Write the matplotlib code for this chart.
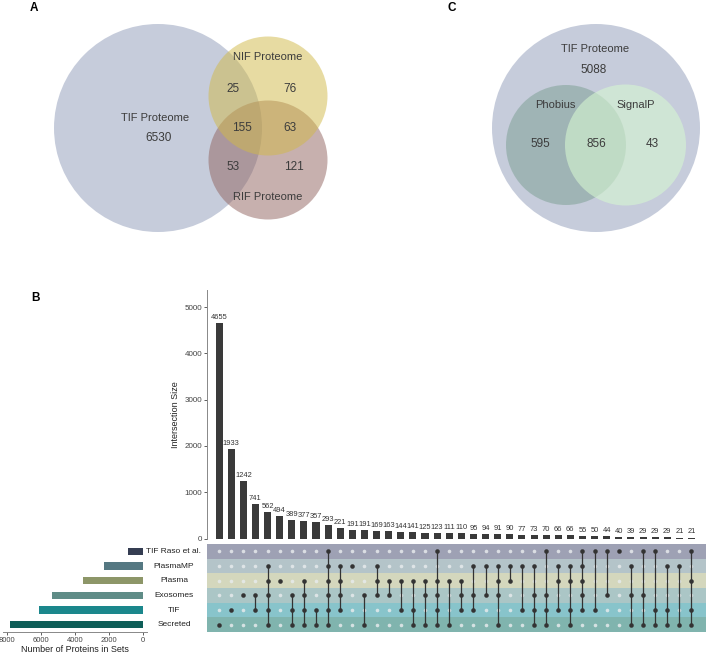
import numpy as np
import matplotlib.pyplot as plt
from matplotlib.patches import Circle
from matplotlib.transforms import blended_transform_factory

plt.rcParams['font.family'] = ['Liberation Sans', 'DejaVu Sans']

# Panel A - venn of the three proteomes
venn_a_sets = ['TIF Proteome', 'NIF Proteome', 'RIF Proteome']
venn_a_counts = [6530, 25, 76, 155, 63, 53, 121]   # TIF, TIF&NIF, NIF, all, NIF&RIF, TIF&RIF, RIF

# Panel C - signal peptide prediction
venn_c_sets = ['TIF Proteome', 'Phobius', 'SignalP']
venn_c_counts = [5088, 595, 856, 43]              # TIF only, Phobius, both, SignalP

# Panel B - upset
set_names = ['TIF Raso et al.', 'PlasmaMP', 'Plasma', 'Exosomes', 'TIF', 'Secreted']
set_sizes = [920, 2330, 3510, 5370, 6100, 7820]
set_colors = ['#353d52', '#557882', '#8d9668', '#5f8c87', '#1b878c', '#0e5e58']
row_colors = ['#9ea1b4', '#b4c4c9', '#d4d7bd', '#abc6c6', '#88c4cb', '#80b4ae']

inter_sizes = [4655, 1933, 1242, 741, 562, 494, 389, 377, 357, 293,
               221, 191, 191, 169, 163, 144, 141, 125, 123, 111,
               110, 95, 94, 91, 90, 77, 73, 70, 66, 66,
               55, 50, 44, 40, 39, 29, 29, 29, 21, 21]
# row index of every set in each intersection (0 = TIF Raso et al. ... 5 = Secreted)
inter_members = [[5], [4], [3], [3, 4], [1, 2, 3, 4, 5], [2], [3, 4, 5], [2, 3, 4, 5], [4, 5],
                 [0, 1, 2, 3, 4, 5], [1, 2, 3, 4], [1], [3, 5], [1, 2, 3], [2, 3], [2, 4],
                 [2, 4, 5], [2, 3, 5], [0, 2, 3, 4, 5], [2, 5], [2, 3, 4], [1, 3, 4], [1, 3],
                 [1, 2, 3, 5], [1, 2], [1, 4], [1, 3, 4, 5], [0, 3, 4, 5], [1, 2, 4],
                 [1, 2, 4, 5], [0, 1, 2, 3, 4], [0, 4], [0, 3], [0], [1, 3, 5], [0, 3, 5],
                 [0, 4, 5], [1, 4, 5], [1, 5], [0, 2, 4, 5]]

W, H = 709, 655
fig = plt.figure(figsize=(W / 100, H / 100), dpi=100)


def px_axes(l, t, r, b):
    return fig.add_axes([l / W, 1 - b / H, (r - l) / W, (b - t) / H])


txt = '#3c3c3c'

# ---- venns, drawn on a pixel-space overlay
ov = px_axes(0, 0, W, H)
ov.set_xlim(0, W)
ov.set_ylim(H, 0)
ov.axis('off')

ov.add_patch(Circle((158, 128), 104, color='#8e9ab8', alpha=0.5, lw=0))
ov.add_patch(Circle((268, 160), 59.5, color='#91635f', alpha=0.5, lw=0))
ov.add_patch(Circle((268, 96), 59.5, color='#d1b947', alpha=0.5, lw=0))

a_pos = [(159, 138), (233, 89), (290, 89), (242, 128), (290, 128), (233, 167), (294, 167)]
for (x, y), n in zip(a_pos, venn_a_counts):
    ov.text(x, y, str(n), ha='center', va='center', fontsize=8.5, color=txt)
ov.text(155, 118, venn_a_sets[0], ha='center', va='center', fontsize=8, color=txt)
ov.text(268, 57, venn_a_sets[1], ha='center', va='center', fontsize=8, color=txt)
ov.text(268, 197, venn_a_sets[2], ha='center', va='center', fontsize=8, color=txt)

ov.add_patch(Circle((596, 128), 104, color='#8e9ab8', alpha=0.5, lw=0))
ov.add_patch(Circle((566, 145), 60, color='#86a59c', alpha=0.6, lw=0))
ov.add_patch(Circle((625.5, 145), 60.5, color='#d6f6d1', alpha=0.6, lw=0))
ov.text(595, 49, venn_c_sets[0], ha='center', va='center', fontsize=8, color=txt)
ov.text(555, 105, venn_c_sets[1], ha='center', va='center', fontsize=8, color=txt)
ov.text(636, 105, venn_c_sets[2], ha='center', va='center', fontsize=8, color=txt)
c_pos = [(594, 70), (540, 144), (596, 144), (652, 144)]
for (x, y), n in zip(c_pos, venn_c_counts):
    ov.text(x, y, str(n), ha='center', va='center', fontsize=8.5, color=txt)

for lab, x, y in [('A', 34, 8), ('C', 452, 8), ('B', 35, 298)]:
    ov.text(x, y, lab, ha='center', va='center', fontsize=8.5, fontweight='bold', color='black')

# ---- intersection bars
n = len(inter_sizes)
xs = np.arange(n)
xl = (-1.0, n + 0.2)

axb = px_axes(207, 290, 706, 538.5)
axb.bar(xs, inter_sizes, width=0.58, color='#3a3a3a')
for x, v in zip(xs, inter_sizes):
    axb.annotate(str(v), (x, v), xytext=(0, 1.5), textcoords='offset points',
                 ha='center', va='bottom', fontsize=5.4, color='#333333')
axb.set_xlim(*xl)
axb.set_ylim(0, 5370)
axb.set_yticks(range(0, 5001, 1000))
axb.tick_params(axis='y', labelsize=5.8, length=2, width=0.6, colors='#444444', pad=1.5)
axb.set_xticks([])
for s in ['top', 'right', 'bottom']:
    axb.spines[s].set_visible(False)
axb.spines['left'].set_color('#888888')
axb.spines['left'].set_linewidth(0.7)
axb.set_ylabel('Intersection Size', fontsize=6.5, color='#222222', labelpad=3)

# ---- matrix
axm = px_axes(207, 544, 706, 632)
axm.set_xlim(*xl)
axm.set_ylim(len(set_names) - 0.5, -0.5)
for i, c in enumerate(row_colors):
    axm.axhspan(i - 0.5, i + 0.5, color=c, lw=0)
for x in xs:
    axm.plot([x] * len(set_names), range(len(set_names)), 'o', ms=2.6,
             color='#e6eaec', alpha=0.85, mec='none')
for x, mem in zip(xs, inter_members):
    if len(mem) > 1:
        axm.plot([x, x], [min(mem), max(mem)], color='#333333', lw=0.9)
    axm.plot([x] * len(mem), mem, 'o', ms=3.3, color='#333333', mec='none')
axm.axis('off')

# ---- set sizes
axs = px_axes(3, 544, 147, 632)
axs.barh(range(len(set_names)), set_sizes, height=0.5, color=set_colors)
axs.set_ylim(len(set_names) - 0.5, -0.5)
axs.set_xlim(8233, -217)
axs.set_xticks(range(0, 8001, 2000))
axs.set_yticks([])
axs.tick_params(axis='x', labelsize=5.5, length=2, width=0.6, colors='#444444', pad=1.5)
for s in ['top', 'right', 'left']:
    axs.spines[s].set_visible(False)
axs.spines['bottom'].set_color('#888888')
axs.spines['bottom'].set_linewidth(0.7)
axs.set_xlabel('Number of Proteins in Sets', fontsize=6.5, color='#222222', labelpad=1)

tr = blended_transform_factory(fig.transFigure, axs.transData)
for i, name in enumerate(set_names):
    axs.text(174 / W, i, name, transform=tr, ha='center', va='center',
             fontsize=6, color='#222222')

fig.savefig('out.png', dpi=100)
